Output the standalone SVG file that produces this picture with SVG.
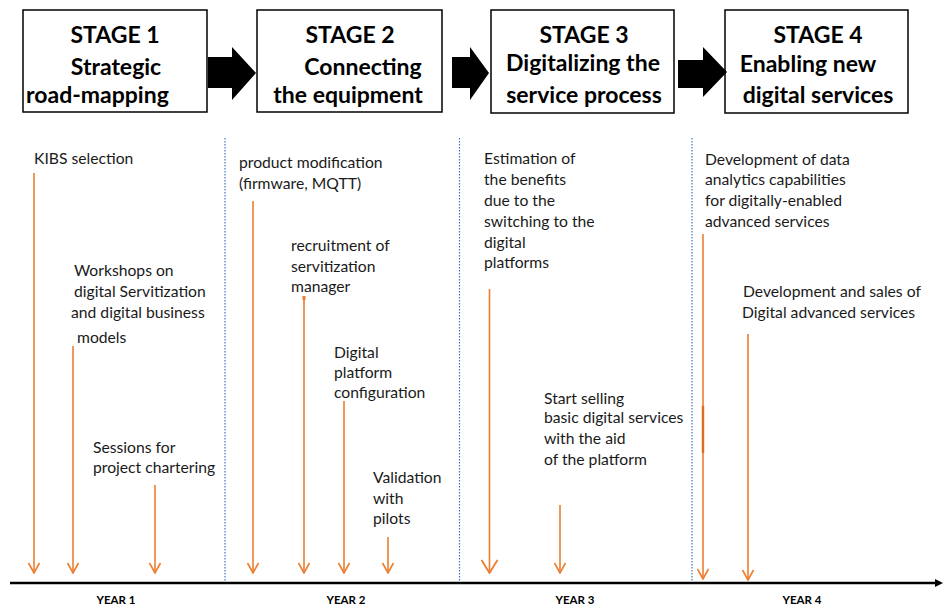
<svg xmlns="http://www.w3.org/2000/svg" width="944" height="608" viewBox="0 0 944 608">
<style>
.box{fill:#fff;stroke:#000;stroke-width:1.5}
.ttl{font-family:Lato,"Open Sans","Liberation Sans",sans-serif;font-weight:bold;font-size:23px;fill:#000}
.lbl{font-family:Lato,"Open Sans","Liberation Sans",sans-serif;font-size:15.7px;fill:#1a1a1a}
.yr{font-family:Lato,"Open Sans","Liberation Sans",sans-serif;font-weight:bold;font-size:11.5px;fill:#000;text-anchor:middle}
.ev{stroke:#ED7D31;stroke-width:1.6;fill:none;marker-end:url(#ah)}
.evb{stroke:#ED7D31;stroke-width:1.6;fill:none;marker-end:url(#ahb)}
.sep{stroke:#4472C4;stroke-width:1.2;stroke-dasharray:1.5 1.5;fill:none}
.blk{fill:#000}
</style>
<defs>
<marker id="ah" viewBox="-1 -7 12 14" refX="10" refY="0" markerWidth="12" markerHeight="14" markerUnits="userSpaceOnUse" orient="auto">
<path d="M0,-5.5 L10,0 L0,5.5" fill="none" stroke="#ED7D31" stroke-width="1.6"/>
</marker>
<marker id="ahb" viewBox="-1 -9 15 18" refX="13" refY="0" markerWidth="15" markerHeight="18" markerUnits="userSpaceOnUse" orient="auto">
<path d="M0,-8 L13,0 L0,8" fill="none" stroke="#ED7D31" stroke-width="1.8"/>
</marker>
<marker id="tl" viewBox="0 -5 8 10" refX="1" refY="0" markerWidth="8" markerHeight="10" markerUnits="userSpaceOnUse" orient="auto">
<path d="M0,-4 L8,0 L0,4 Z" fill="#000"/>
</marker>
</defs>

<g id="stage1">
<rect class="box" x="23" y="10" width="184" height="102"/>
<text class="ttl" x="115" y="43" text-anchor="middle">STAGE 1</text>
<text class="ttl" x="116" y="75" text-anchor="middle">Strategic</text>
<text class="ttl" x="26" y="103">road-mapping</text>
</g>
<g id="stage2">
<rect class="box" x="257" y="10" width="185" height="102"/>
<text class="ttl" x="350" y="43" text-anchor="middle">STAGE 2</text>
<text class="ttl" x="363" y="75" text-anchor="middle">Connecting</text>
<text class="ttl" x="348" y="103" text-anchor="middle">the equipment</text>
</g>
<g id="stage3">
<rect class="box" x="491" y="10" width="183" height="103"/>
<text class="ttl" x="584" y="43" text-anchor="middle">STAGE 3</text>
<text class="ttl" x="583" y="71" text-anchor="middle">Digitalizing the</text>
<text class="ttl" x="584" y="103" text-anchor="middle">service process</text>
</g>
<g id="stage4">
<rect class="box" x="725" y="10" width="183" height="103"/>
<text class="ttl" x="818" y="43" text-anchor="middle">STAGE 4</text>
<text class="ttl" x="808" y="72" text-anchor="middle">Enabling new</text>
<text class="ttl" x="818" y="103" text-anchor="middle">digital services</text>
</g>

<g id="stage-arrows">
<polygon class="blk" points="208,57 232,57 232,47 256,73 232,100 232,88 208,88"/>
<polygon class="blk" points="452,57 470,57 470,47 489,73 470,100 470,88 452,88"/>
<polygon class="blk" points="678,60 703,60 703,47 727,72 703,97 703,88 678,88"/>
</g>

<g id="separators">
<line class="sep" x1="225" y1="138" x2="225" y2="582"/>
<line class="sep" x1="459.5" y1="138" x2="459.5" y2="582"/>
<line class="sep" x1="692" y1="138" x2="692" y2="582"/>
</g>

<g id="timeline">
<line x1="10" y1="583" x2="936" y2="583" stroke="#000" stroke-width="2.5" marker-end="url(#tl)"/>
<text class="yr" x="116" y="604">YEAR 1</text>
<text class="yr" x="346" y="604">YEAR 2</text>
<text class="yr" x="575" y="604">YEAR 3</text>
<text class="yr" x="802" y="604">YEAR 4</text>
</g>

<g id="connectors">
<line class="ev" x1="34" y1="173" x2="34" y2="573"/>
<line class="ev" x1="73" y1="346" x2="73" y2="573"/>
<line class="ev" x1="155" y1="485" x2="155" y2="573" stroke="#F4A46C"/>
<line class="ev" x1="253" y1="201" x2="253" y2="573"/>
<line class="ev" x1="304" y1="298" x2="304" y2="573"/>
<rect x="302.5" y="296" width="3" height="4" fill="#ED7D31"/>
<line class="ev" x1="344" y1="401" x2="344" y2="573"/>
<line class="ev" x1="388" y1="537" x2="388" y2="573"/>
<line class="evb" x1="489.5" y1="289" x2="489.5" y2="573"/>
<line class="ev" x1="560" y1="505" x2="560" y2="573"/>
<line class="ev" x1="703" y1="234" x2="703" y2="579"/>
<line x1="703" y1="406" x2="703" y2="453" stroke="#E06A1F" stroke-width="2.4"/>
<line class="ev" x1="748" y1="334" x2="748" y2="580"/>
</g>

<g id="e-kibs"><text class="lbl" x="34" y="164">KIBS selection</text></g>
<g id="e-workshops">
<text class="lbl" x="74" y="276">Workshops on</text>
<text class="lbl" x="74" y="297">digital Servitization</text>
<text class="lbl" x="71" y="318">and digital business</text>
<text class="lbl" x="77" y="343">models</text>
</g>
<g id="e-sessions">
<text class="lbl" x="93" y="453">Sessions for</text>
<text class="lbl" x="93" y="473">project chartering</text>
</g>
<g id="e-product">
<text class="lbl" x="239" y="168">product modification</text>
<text class="lbl" x="239" y="189">(firmware, MQTT)</text>
</g>
<g id="e-recruit">
<text class="lbl" x="291" y="251">recruitment of</text>
<text class="lbl" x="291" y="272">servitization</text>
<text class="lbl" x="291" y="292">manager</text>
</g>
<g id="e-platform">
<text class="lbl" x="334" y="358">Digital</text>
<text class="lbl" x="334" y="378">platform</text>
<text class="lbl" x="334" y="398">configuration</text>
</g>
<g id="e-validation">
<text class="lbl" x="373" y="483">Validation</text>
<text class="lbl" x="373" y="504">with</text>
<text class="lbl" x="373" y="524">pilots</text>
</g>
<g id="e-estimation">
<text class="lbl" x="484" y="164">Estimation of</text>
<text class="lbl" x="484" y="185">the benefits</text>
<text class="lbl" x="484" y="206">due to the</text>
<text class="lbl" x="484" y="227">switching to the</text>
<text class="lbl" x="484" y="248">digital</text>
<text class="lbl" x="484" y="268">platforms</text>
</g>
<g id="e-selling">
<text class="lbl" x="544" y="404">Start selling</text>
<text class="lbl" x="544" y="423">basic digital services</text>
<text class="lbl" x="544" y="444">with the aid</text>
<text class="lbl" x="544" y="465">of the platform</text>
</g>
<g id="e-analytics">
<text class="lbl" x="705" y="165">Development of data</text>
<text class="lbl" x="705" y="185">analytics capabilities</text>
<text class="lbl" x="705" y="206">for digitally-enabled</text>
<text class="lbl" x="705" y="227">advanced services</text>
</g>
<g id="e-sales">
<text class="lbl" x="743" y="297">Development and sales of</text>
<text class="lbl" x="742" y="318">Digital advanced services</text>
</g>
</svg>
